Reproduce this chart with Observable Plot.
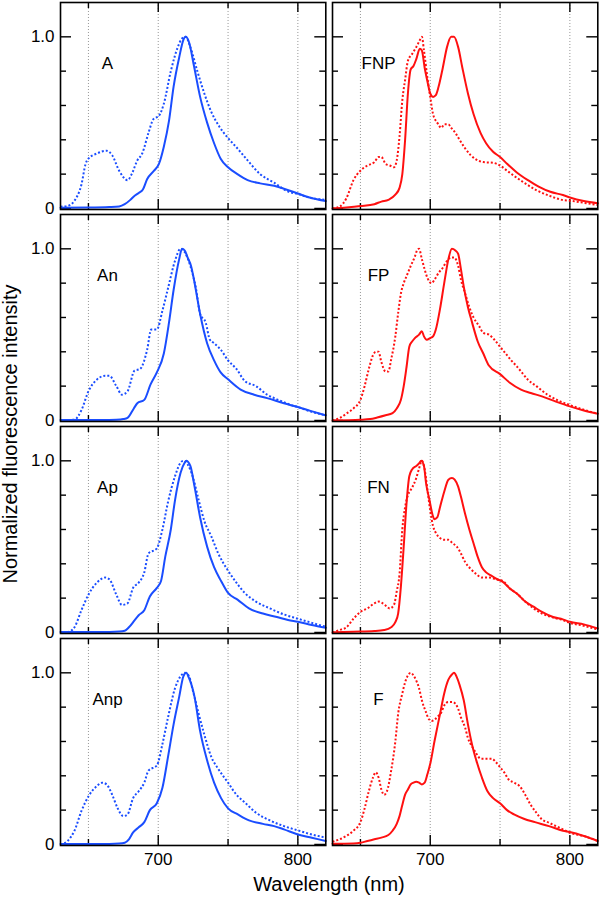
<!DOCTYPE html>
<html>
<head>
<meta charset="utf-8">
<script src="https://cdn.jsdelivr.net/npm/d3@7"></script>
<script src="https://cdn.jsdelivr.net/npm/@observablehq/plot@0.6"></script>
<style>
  html, body { margin: 0; padding: 0; background: #fff; }
  #chart { position: relative; width: 600px; height: 897px; font-family: "Liberation Sans", Arial, Helvetica, sans-serif; }
  .cell { position: absolute; }
  .xtitle { position: absolute; left: 60px; width: 538px; top: 874px; font-size: 20px; line-height: 20px; text-align: center; color: #000; }
  .ytitle { position: absolute; left: -190px; top: 424px; width: 400px; font-size: 20px; line-height: 20px; text-align: center; transform: rotate(-90deg); color: #000; white-space: nowrap; }
</style>
</head>
<body>
<div id="chart"></div>
<script>
// ---- Data (wavelength nm, normalized intensity) ----
const panelNames = ["A", "FNP", "An", "FP", "Ap", "FN", "Anp", "F"];
const xTickLabels = [700, 800];
const yTickLabels = [0, 1];
const gridWavelengths = [650, 700, 750, 800];
const xMajorTicks = [700, 800];
const xMinorTicks = [650, 750];
const yMajorTicks = [0, 1];
const yMinorTicks = [0.2, 0.4, 0.6, 0.8];
const xTitle = "Wavelength (nm)";
const yTitle = "Normalized fluorescence intensity";

const A_solid = [[630,0.004],[650,0.005],[665,0.008],[672,0.012],[676,0.025],[680,0.05],[682.5,0.07],[686,0.09],[689,0.11],[692,0.17],[697,0.22],[700.5,0.26],[704,0.36],[707.7,0.51],[711,0.71],[715,0.88],[718.4,0.99],[719.6,1.0],[722,0.97],[725.6,0.83],[730,0.65],[735,0.50],[740,0.38],[744.7,0.29],[750,0.24],[756.7,0.20],[764,0.165],[773,0.146],[783,0.132],[790,0.115],[800,0.087],[809,0.062],[820,0.043]];
const A_dotted = [[630,0.01],[635,0.015],[640,0.045],[645,0.14],[648,0.26],[650,0.29],[656,0.32],[663,0.336],[667,0.31],[672,0.22],[678,0.165],[681,0.2],[685,0.28],[688.5,0.32],[693,0.44],[696.5,0.52],[700.5,0.54],[704,0.61],[709,0.80],[714,0.94],[717,0.99],[719.6,1.0],[723,0.94],[728,0.80],[733,0.67],[737.6,0.57],[743.5,0.48],[750,0.41],[756.7,0.35],[764,0.28],[773,0.20],[783,0.15],[792.6,0.10],[800,0.084],[809,0.062],[820,0.05]];

const An_solid = [[630,0.002],[660,0.002],[670,0.004],[675,0.008],[678,0.015],[682.5,0.07],[685,0.1],[690,0.12],[694.5,0.21],[699,0.28],[704,0.39],[707.7,0.57],[711,0.76],[715,0.94],[717,1.0],[719,0.99],[721,0.95],[723.5,0.90],[725.6,0.82],[730,0.62],[735,0.45],[740,0.35],[744.7,0.28],[750,0.24],[759,0.18],[768.7,0.15],[778,0.13],[790,0.10],[800,0.078],[809,0.056],[820,0.03]];
const An_dotted = [[630,0.0],[640,0.005],[645,0.06],[650,0.17],[655,0.23],[662,0.26],[665,0.26],[670,0.20],[674,0.15],[678,0.17],[683,0.29],[687,0.30],[692,0.41],[695,0.53],[699,0.53],[703,0.64],[707,0.77],[712,0.93],[716,1.0],[719,0.98],[723,0.90],[727,0.77],[730,0.62],[734,0.57],[737,0.47],[740,0.45],[745,0.41],[750,0.35],[756,0.30],[762,0.23],[770,0.20],[778,0.15],[786,0.12],[795,0.09],[800,0.078],[810,0.05],[820,0.03]];

const Ap_solid = [[630,0.002],[665,0.003],[672,0.005],[676,0.01],[679,0.03],[683,0.07],[686,0.10],[690,0.13],[694,0.21],[699,0.26],[702,0.30],[705,0.44],[709,0.60],[712,0.77],[716,0.93],[719,0.99],[720,1.0],[723,0.97],[726,0.85],[730,0.67],[735,0.50],[740,0.38],[745,0.30],[750,0.23],[757,0.19],[765,0.14],[775,0.11],[785,0.09],[793,0.072],[800,0.062],[810,0.043],[820,0.027]];
const Ap_dotted = [[635,0.0],[640,0.03],[645,0.13],[650,0.22],[656,0.29],[662,0.32],[665,0.31],[670,0.22],[674,0.16],[678,0.17],[682,0.26],[686,0.29],[690,0.35],[693,0.46],[699,0.49],[703,0.60],[707,0.76],[712,0.91],[716,0.99],[718,1.0],[721,0.98],[725,0.90],[729,0.77],[733,0.65],[738,0.56],[743,0.46],[750,0.36],[756,0.29],[762,0.23],[770,0.18],[780,0.14],[790,0.105],[800,0.08],[810,0.056],[820,0.033]];

const Anp_solid = [[630,0.002],[665,0.003],[672,0.005],[676,0.01],[679,0.03],[682,0.07],[686,0.10],[690,0.13],[694,0.20],[699,0.24],[703,0.33],[707,0.51],[711,0.70],[715,0.86],[718,0.98],[720,1.0],[722,0.97],[726,0.86],[730,0.66],[735,0.49],[740,0.36],[745,0.27],[750,0.21],[757,0.175],[765,0.14],[775,0.12],[783,0.107],[790,0.088],[800,0.058],[810,0.039],[820,0.02]];
const Anp_dotted = [[630,0.0],[635,0.02],[640,0.08],[645,0.195],[650,0.28],[656,0.34],[660,0.36],[663,0.35],[667,0.29],[671,0.21],[675,0.165],[678,0.175],[682,0.27],[686,0.31],[690,0.36],[693,0.43],[699,0.46],[703,0.585],[707,0.74],[712,0.91],[716,0.98],[719,1.0],[722,0.98],[725,0.89],[729,0.76],[733,0.64],[738,0.51],[743,0.44],[750,0.36],[756,0.29],[762,0.245],[770,0.185],[780,0.14],[790,0.107],[800,0.082],[810,0.058],[820,0.04]];

const FNP_solid = [[630,0.0],[640,0.006],[650,0.014],[660,0.025],[665,0.04],[670,0.05],[675,0.08],[678,0.12],[680,0.20],[682,0.40],[684,0.67],[686,0.81],[688,0.83],[690,0.87],[692.5,0.93],[694,0.92],[696,0.82],[698,0.74],[700,0.67],[702,0.65],[704,0.66],[706,0.71],[709,0.82],[712,0.94],[715,1.0],[717,1.0],[720,0.94],[723,0.82],[727,0.67],[731,0.55],[736,0.44],[740,0.38],[745,0.33],[750,0.30],[755,0.26],[762,0.21],[770,0.165],[778,0.126],[786,0.097],[795,0.078],[800,0.064],[810,0.043],[820,0.03]];
const FNP_dotted = [[630,0.0],[635,0.01],[640,0.06],[645,0.165],[650,0.22],[655,0.25],[660,0.27],[663,0.30],[665,0.30],[668,0.26],[671,0.25],[674,0.24],[676,0.28],[678,0.42],[680,0.63],[682,0.75],[684,0.86],[687,0.90],[690,0.94],[692.5,0.98],[694,1.0],[695.5,0.92],[698,0.76],[700,0.65],[702,0.55],[705,0.50],[708,0.47],[710,0.49],[713,0.49],[715,0.47],[718,0.44],[721,0.40],[725,0.35],[729,0.31],[733,0.285],[738,0.27],[745,0.266],[750,0.25],[755,0.22],[760,0.19],[768,0.146],[776,0.107],[786,0.072],[795,0.049],[800,0.045],[810,0.033],[820,0.02]];

const FP_solid = [[630,0.0],[650,0.004],[657,0.008],[662,0.017],[668,0.03],[673,0.043],[676,0.07],[679,0.12],[681,0.20],[683,0.31],[685,0.43],[687,0.46],[689,0.48],[692,0.50],[694,0.52],[695.5,0.49],[697.5,0.47],[700,0.48],[702,0.49],[704,0.53],[707,0.65],[710,0.80],[713,0.94],[715.5,1.0],[718,0.99],[720,0.97],[722,0.88],[724,0.78],[727,0.66],[730,0.57],[734,0.46],[738,0.39],[742,0.32],[750,0.27],[757,0.22],[765,0.18],[772,0.16],[780,0.14],[790,0.11],[800,0.082],[810,0.058],[820,0.039]];
const FP_dotted = [[630,0.0],[635,0.014],[640,0.04],[645,0.07],[650,0.12],[653,0.20],[656,0.30],[659,0.38],[661,0.40],[663,0.40],[665,0.34],[668,0.285],[670,0.285],[672,0.355],[675,0.49],[677,0.625],[679,0.74],[681,0.80],[683,0.84],[686,0.90],[689,0.955],[690.5,0.99],[692,1.0],[694,0.94],[696,0.88],[698,0.83],[701,0.80],[703,0.82],[706,0.86],[709,0.89],[712,0.93],[715,0.95],[717,0.95],[720,0.90],[722,0.82],[725,0.74],[728,0.66],[731,0.60],[735,0.55],[738,0.51],[742,0.50],[746,0.47],[750,0.43],[754,0.39],[758,0.35],[762,0.315],[766,0.276],[770,0.237],[776,0.20],[784,0.15],[792,0.115],[800,0.09],[810,0.062],[820,0.039]];

const FN_solid = [[630,0.0],[645,0.004],[660,0.008],[667,0.014],[672,0.03],[675,0.06],[677,0.11],[679,0.27],[681,0.50],[683,0.75],[685,0.91],[687,0.95],[690,0.97],[692,0.985],[693.5,1.0],[695.5,0.97],[697,0.87],[699.5,0.77],[701.5,0.69],[703,0.66],[705,0.67],[707,0.73],[710,0.82],[713,0.89],[715.5,0.90],[717.5,0.89],[720,0.85],[722,0.79],[725,0.69],[728,0.60],[731,0.52],[734,0.44],[737,0.38],[740,0.35],[744,0.33],[748,0.31],[752,0.295],[757,0.256],[762,0.227],[768,0.18],[774,0.15],[780,0.12],[788,0.09],[795,0.076],[800,0.062],[810,0.047],[820,0.023]];
const FN_dotted = [[630,0.0],[635,0.014],[640,0.03],[645,0.08],[650,0.12],[655,0.14],[660,0.17],[663,0.18],[666,0.17],[669,0.15],[671,0.14],[674,0.16],[676,0.24],[678,0.34],[680,0.60],[682,0.73],[684,0.80],[686,0.83],[688,0.86],[690,0.90],[692,0.955],[694,1.0],[696,0.95],[698,0.83],[700,0.71],[702,0.62],[704,0.58],[707,0.55],[710,0.54],[713,0.54],[716,0.52],[719,0.50],[722,0.46],[725,0.41],[729,0.37],[733,0.34],[737,0.32],[742,0.32],[747,0.31],[752,0.30],[757,0.256],[762,0.227],[768,0.18],[774,0.14],[780,0.11],[788,0.087],[795,0.072],[800,0.056],[810,0.039],[820,0.017]];

const F_solid = [[630,0.004],[645,0.006],[650,0.01],[655,0.02],[660,0.03],[665,0.04],[670,0.055],[673,0.08],[676,0.12],[678,0.165],[680,0.23],[682,0.29],[684,0.32],[686,0.35],[688,0.36],[690,0.365],[692,0.36],[694,0.35],[696,0.36],[698,0.41],[700,0.47],[703,0.60],[707,0.76],[710,0.88],[713,0.96],[715.5,0.99],[717,1.0],[719,0.975],[721,0.93],[724,0.84],[727,0.70],[730,0.58],[733,0.49],[737,0.39],[741,0.31],[745,0.27],[750,0.24],[755,0.20],[760,0.175],[767,0.15],[775,0.13],[785,0.107],[795,0.08],[800,0.072],[810,0.049],[820,0.02]];
const F_dotted = [[630,0.016],[635,0.03],[640,0.05],[645,0.08],[650,0.13],[653,0.21],[656,0.31],[659,0.39],[661,0.42],[663,0.39],[665,0.32],[667,0.29],[669,0.31],[672,0.43],[675,0.60],[677,0.76],[680,0.88],[682,0.945],[684,0.985],[686,1.0],[688,0.985],[690,0.955],[692,0.91],[694,0.84],[697,0.77],[699,0.73],[701,0.72],[703.5,0.73],[706,0.75],[708,0.77],[710,0.81],[713,0.83],[716,0.83],[718,0.82],[720,0.79],[722,0.74],[725,0.68],[727,0.62],[730,0.57],[733,0.53],[736,0.50],[740,0.50],[744,0.50],[747,0.48],[750,0.45],[753,0.42],[756,0.38],[760,0.36],[764,0.34],[768,0.29],[772,0.23],[776,0.185],[780,0.146],[785,0.127],[790,0.107],[795,0.088],[800,0.068],[810,0.049],[820,0.02]];

const solidSeries = [A_solid, FNP_solid, An_solid, FP_solid, Ap_solid, FN_solid, Anp_solid, F_solid];
const dottedSeries = [A_dotted, FNP_dotted, An_dotted, FP_dotted, Ap_dotted, FN_dotted, Anp_dotted, F_dotted];

// ---- Styling / layout ----
const BLUE = "#1a4dff";
const RED = "#ff1010";
const FONT = '"Liberation Sans", Arial, Helvetica, sans-serif';
const X_DOMAIN = [630, 820];
const Y_DOMAIN = [-0.006, 1.2];
const INNER_W = 265.3;
const INNER_H = 207;
const ROW_PITCH = 211.7;
const FIRST_TOP = 2.4;
const COL_LEFT = [60, 332.3];

const toRows = (arr) => arr.map(([w, v]) => ({w, v}));
const root = document.getElementById("chart");

panelNames.forEach((name, i) => {
  const col = i % 2, row = Math.floor(i / 2);
  const isLeft = col === 0, isBottom = row === 3;
  const color = isLeft ? BLUE : RED;
  const mL = isLeft ? 60 : 3, mR = 3, mT = 3, mB = isBottom ? 30 : 3;
  const ih = INNER_H, iw = INNER_W;
  const marks = [
    Plot.ruleX(gridWavelengths, {x: d => d, stroke: "#8a8a8a", strokeWidth: 0.9, strokeDasharray: "1,2"}),
    Plot.tickX(xMajorTicks, {x: d => d, insetTop: ih - 10, stroke: "#000", strokeWidth: 1.4}),
    Plot.tickX(xMinorTicks, {x: d => d, insetTop: ih - 6, stroke: "#000", strokeWidth: 1.4}),
    Plot.tickX(xMajorTicks, {x: d => d, insetBottom: ih - 10, stroke: "#000", strokeWidth: 1.4}),
    Plot.tickX(xMinorTicks, {x: d => d, insetBottom: ih - 6, stroke: "#000", strokeWidth: 1.4}),
    Plot.tickY(yMajorTicks, {y: d => d, insetRight: iw - 11, stroke: "#000", strokeWidth: 1.4}),
    Plot.tickY(yMinorTicks, {y: d => d, insetRight: iw - 6, stroke: "#000", strokeWidth: 1.4}),
    Plot.tickY(yMajorTicks, {y: d => d, insetLeft: iw - 11, stroke: "#000", strokeWidth: 1.4}),
    Plot.tickY(yMinorTicks, {y: d => d, insetLeft: iw - 6, stroke: "#000", strokeWidth: 1.4}),
    Plot.line(toRows(dottedSeries[i]), {x: "w", y: "v", stroke: color, strokeWidth: 2, strokeDasharray: "2,2", strokeLinecap: "butt", curve: "monotone-x"}),
    Plot.line(toRows(solidSeries[i]), {x: "w", y: "v", stroke: color, strokeWidth: 2, curve: "monotone-x"}),
    Plot.text([name], {text: d => d, frameAnchor: "top-left", dx: isLeft ? 47 : 46, dy: 54, textAnchor: "middle", fontSize: 17, fill: "#000"}),
    Plot.frame({stroke: "#000", strokeWidth: 1.6})
  ];
  if (isLeft) {
    marks.push(Plot.axisY(yTickLabels, {anchor: "left", tickSize: 0, tickPadding: 6, label: null, fontSize: 17,
      tickFormat: d => d === 0 ? "0" : d3.format(".1f")(d)}));
  }
  if (isBottom) {
    marks.push(Plot.axisX(xTickLabels, {anchor: "bottom", tickSize: 0, tickPadding: 7, label: null, fontSize: 17,
      tickFormat: d => String(d)}));
  }
  const svg = Plot.plot({
    width: mL + iw + mR,
    height: mT + ih + mB,
    marginLeft: mL, marginRight: mR, marginTop: mT, marginBottom: mB,
    x: {domain: X_DOMAIN, axis: null},
    y: {domain: Y_DOMAIN, axis: null},
    style: {background: "none", overflow: "visible", fontFamily: FONT, fontSize: "17px", color: "#000"},
    marks
  });
  const cell = document.createElement("div");
  cell.className = "cell";
  cell.style.left = (COL_LEFT[col] - mL) + "px";
  cell.style.top = (FIRST_TOP + row * ROW_PITCH - mT) + "px";
  cell.style.width = (mL + iw + mR) + "px";
  cell.appendChild(svg);
  root.appendChild(cell);
});

const xt = document.createElement("div");
xt.className = "xtitle";
xt.textContent = xTitle;
root.appendChild(xt);
const yt = document.createElement("div");
yt.className = "ytitle";
yt.textContent = yTitle;
root.appendChild(yt);
</script>
</body>
</html>
